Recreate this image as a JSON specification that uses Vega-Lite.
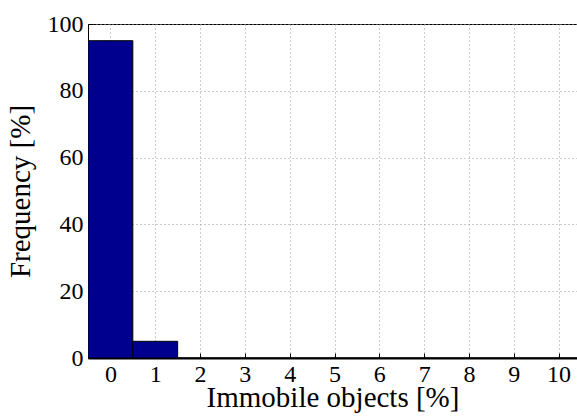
{
  "$schema": "https://vega.github.io/schema/vega-lite/v6.json",
  "autosize": "none",
  "width": 489,
  "height": 334,
  "padding": {"left": 88, "top": 24, "right": 0, "bottom": 59},
  "background": "white",
  "config": {
    "view": {"stroke": "black", "strokeWidth": 1},
    "font": "Liberation Serif, Times New Roman, serif",
    "axis": {
      "labelFont": "Liberation Serif, Times New Roman, serif",
      "titleFont": "Liberation Serif, Times New Roman, serif",
      "labelFontSize": 24,
      "titleFontSize": 29,
      "titleFontWeight": "normal",
      "labelColor": "black",
      "titleColor": "black",
      "tickColor": "black",
      "tickSize": -5,
      "domainColor": "black",
      "gridColor": "#999999",
      "gridDash": [1, 3],
      "gridOpacity": 1
    }
  },
  "data": {
    "values": [
      {"start": -0.5, "end": 0.5, "freq": 95},
      {"start": 0.5, "end": 1.5, "freq": 5},
      {"start": 1.5, "end": 2.5, "freq": 0},
      {"start": 2.5, "end": 3.5, "freq": 0},
      {"start": 3.5, "end": 4.5, "freq": 0},
      {"start": 4.5, "end": 5.5, "freq": 0},
      {"start": 5.5, "end": 6.5, "freq": 0},
      {"start": 6.5, "end": 7.5, "freq": 0},
      {"start": 7.5, "end": 8.5, "freq": 0},
      {"start": 8.5, "end": 9.5, "freq": 0},
      {"start": 9.5, "end": 10.5, "freq": 0}
    ]
  },
  "mark": {"type": "bar", "color": "#00008F", "stroke": "black", "strokeWidth": 1, "clip": true},
  "encoding": {
    "x": {
      "field": "start",
      "type": "quantitative",
      "scale": {"domain": [-0.5, 10.41], "nice": false, "zero": false},
      "axis": {
        "title": "Immobile objects [%]",
        "values": [0, 1, 2, 3, 4, 5, 6, 7, 8, 9, 10],
        "labelPadding": 9,
        "titlePadding": -3,
        "domainWidth": 2
      }
    },
    "x2": {"field": "end"},
    "y": {
      "field": "freq",
      "type": "quantitative",
      "scale": {"domain": [0, 100], "nice": false},
      "axis": {
        "title": "Frequency [%]",
        "values": [0, 20, 40, 60, 80, 100],
        "labelPadding": 10,
        "titlePadding": 12
      }
    },
    "y2": {"datum": 0}
  }
}
